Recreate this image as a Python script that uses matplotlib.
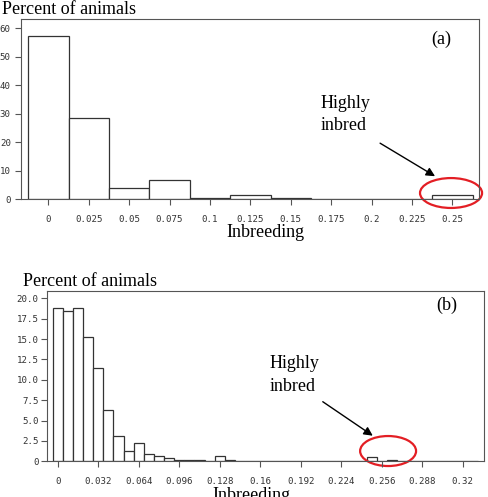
import numpy as np
import matplotlib
matplotlib.use('Agg')
import matplotlib.pyplot as plt
from matplotlib.patches import Ellipse

# panel (a): bins of width 0.025
a_centers = [0, 0.025, 0.05, 0.075, 0.1, 0.125, 0.15, 0.175, 0.2, 0.225, 0.25]
a_percent = [57.2, 28.6, 3.8, 6.8, 0.4, 1.3, 0.4, 0, 0, 0, 1.4]
a_xticks = [0, 0.025, 0.05, 0.075, 0.1, 0.125, 0.15, 0.175, 0.2, 0.225, 0.25]
a_xlabels = ['0', '0.025', '0.05', '0.075', '0.1', '0.125', '0.15', '0.175', '0.2', '0.225', '0.25']
a_yticks = [0, 10, 20, 30, 40, 50, 60]

# panel (b): bins of width 0.008
b_width = 0.008
b_percent = [18.8, 18.5, 18.8, 15.3, 11.4, 6.3, 3.1, 1.3, 2.3, 0.95, 0.65, 0.45,
             0.2, 0.1, 0.1, 0.05, 0.65, 0.15, 0.08, 0.08, 0.08, 0, 0, 0,
             0, 0, 0, 0, 0, 0, 0, 0.5, 0, 0.12, 0, 0, 0, 0, 0, 0, 0, 0]
b_centers = np.arange(len(b_percent)) * b_width
b_xticks = [0, 0.032, 0.064, 0.096, 0.128, 0.16, 0.192, 0.224, 0.256, 0.288, 0.32]
b_xlabels = ['0', '0.032', '0.064', '0.096', '0.128', '0.16', '0.192', '0.224', '0.256', '0.288', '0.32']
b_yticks = [0, 2.5, 5, 7.5, 10, 12.5, 15, 17.5, 20]
b_ylabels = ['0', '2.5', '5.0', '7.5', '10.0', '12.5', '15.0', '17.5', '20.0']

W, H = 488, 497
fig = plt.figure(figsize=(W / 100, H / 100), dpi=100)

def box(l, t, r, b):
    return [l / W, 1 - b / H, (r - l) / W, (b - t) / H]

def px(x, y):
    return x / W, 1 - y / H

serif = dict(family=['Liberation Serif', 'DejaVu Serif'], size=13)
tickfont = dict(family='DejaVu Sans Mono', size=6.6)
frame_c = '#555555'
bar_c = '#333333'

def style(ax):
    for s in ax.spines.values():
        s.set_color(frame_c)
        s.set_linewidth(0.8)
    ax.tick_params(axis='x', direction='out', length=4, width=0.8, color=frame_c,
                   pad=7.6, labelcolor='#333333')
    ax.tick_params(axis='y', direction='out', length=4.3, width=0.8, color=frame_c,
                   labelcolor='#333333')
    for lab in ax.get_xticklabels() + ax.get_yticklabels():
        lab.set_fontfamily(tickfont['family'])
        lab.set_fontsize(tickfont['size'])

# ---- panel (a)
ax1 = fig.add_axes(box(21, 19, 479, 199))
ax1.bar(a_centers, a_percent, width=0.025, color='white', edgecolor=bar_c, linewidth=0.9)
ax1.set_xlim(-0.0169, 0.2665)
ax1.set_ylim(0, 63.2)
ax1.set_xticks(a_xticks)
ax1.set_xticklabels(a_xlabels)
ax1.set_yticks(a_yticks)
ax1.set_yticklabels([str(v) for v in a_yticks])
style(ax1)
ax1.tick_params(axis='y', pad=3)
ax1.add_patch(Ellipse((0.2492, 2.1), 0.0384, 10.5, fill=False, edgecolor='#e31e24',
                      linewidth=1.6, clip_on=False))
ax1.annotate('', xy=(0.2393, 8.0), xytext=(0.2053, 19.6),
             arrowprops=dict(arrowstyle='-|>', color='black', lw=1, mutation_scale=13,
                             shrinkA=0, shrinkB=0))

# ---- panel (b)
ax2 = fig.add_axes(box(46.7, 290.7, 484.3, 461.3))
ax2.bar(b_centers, b_percent, width=b_width, color='white', edgecolor=bar_c, linewidth=0.9)
ax2.set_xlim(-0.0087, 0.337)
ax2.set_ylim(0, 20.93)
ax2.set_xticks(b_xticks)
ax2.set_xticklabels(b_xlabels)
ax2.set_yticks(b_yticks)
ax2.set_yticklabels(b_ylabels)
style(ax2)
ax2.tick_params(axis='y', pad=1.5)
ax2.add_patch(Ellipse((0.261, 1.26), 0.0442, 3.68, fill=False, edgecolor='#e31e24',
                      linewidth=1.6, clip_on=False))
ax2.annotate('', xy=(0.2489, 3.14), xytext=(0.2094, 7.31),
             arrowprops=dict(arrowstyle='-|>', color='black', lw=1, mutation_scale=13,
                             shrinkA=0, shrinkB=0))

# ---- texts
fig.text(*px(2, 13.5), 'Percent of animals', ha='left', va='baseline', **serif)
fig.text(*px(265, 236.5), 'Inbreeding', ha='center', va='baseline', **serif)
fig.text(*px(441.5, 44), '(a)', ha='center', va='baseline', **serif)
fig.text(*px(321, 107.5), 'Highly', ha='left', va='baseline', **serif)
fig.text(*px(321, 130), 'inbred', ha='left', va='baseline', **serif)

fig.text(*px(22.7, 286), 'Percent of animals', ha='left', va='baseline', **serif)
fig.text(*px(251, 500.5), 'Inbreeding', ha='center', va='baseline', **serif)
fig.text(*px(447, 310), '(b)', ha='center', va='baseline', **serif)
fig.text(*px(269.3, 367.8), 'Highly', ha='left', va='baseline', **serif)
fig.text(*px(269.3, 390.7), 'inbred', ha='left', va='baseline', **serif)

fig.savefig('out.png', dpi=100)
